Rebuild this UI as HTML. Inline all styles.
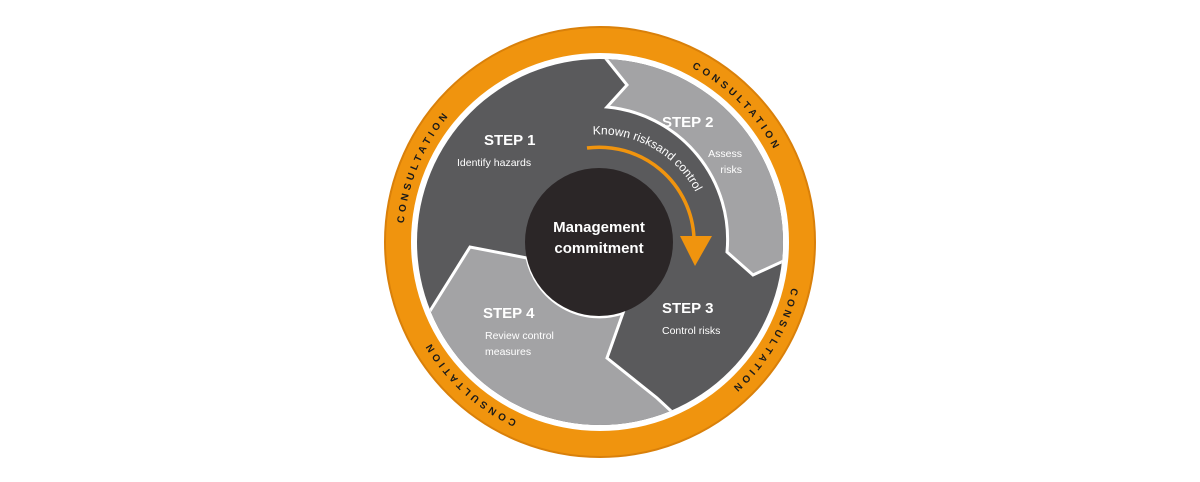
<!DOCTYPE html>
<html><head><meta charset="utf-8"><style>
html,body{margin:0;padding:0;background:#fff;}
svg{display:block;}
text{font-family:"Liberation Sans",sans-serif;}
</style></head><body>
<svg width="1200" height="482" viewBox="0 0 1200 482">
<defs>
<clipPath id="disk"><circle cx="600" cy="242" r="183"/></clipPath>
<path id="c1" d="M 600 242 m -197 0 a 197 197 0 1 1 394 0 a 197 197 0 1 1 -394 0"/>
<path id="ka" d="M 581 136 A 108 108 0 0 1 707.6 251.4"/>
</defs>
<circle cx="600" cy="242" r="215" fill="#f0940e"/>
<circle cx="600" cy="242" r="215" fill="none" stroke="#d9800a" stroke-width="2"/>
<circle cx="600" cy="242" r="189" fill="#fff"/>
<circle cx="600" cy="242" r="183" fill="#5a5a5c"/>
<g clip-path="url(#disk)" fill="#a3a3a5" stroke="#fff" stroke-width="3" stroke-linejoin="miter">
<path d="M603,55 L627,85 L607,107 A133,133 0 0 1 727,252 L753,275 L790,258 L790,40 Z"/>
<path d="M685,424 L657,398 L607,358 L623,313 A74,74 0 0 1 527,258 L470,247 L420,327 L380,345 L380,480 L700,480 Z"/>
</g>
<circle cx="599" cy="242" r="74" fill="#2b2627"/>
<path d="M 587 148 A 95 95 0 0 1 694 238" fill="none" stroke="#f0940e" stroke-width="3.5"/>
<polygon points="680,236 712,236 695,266" fill="#f0940e"/>
<text font-size="12" fill="#fff"><textPath href="#ka" startOffset="12">Known risksand control</textPath></text>
<g font-weight="bold" fill="#fff">
<text x="484" y="145" font-size="15">STEP 1</text>
<text x="662" y="127" font-size="15">STEP 2</text>
<text x="662" y="313" font-size="15">STEP 3</text>
<text x="483" y="318" font-size="15">STEP 4</text>
<text x="599" y="232" font-size="15" text-anchor="middle">Management</text>
<text x="599" y="253" font-size="15" text-anchor="middle">commitment</text>
</g>
<g fill="#fff" font-size="10.5">
<text x="457" y="166">Identify hazards</text>
<text x="742" y="157" text-anchor="end">Assess</text>
<text x="742" y="173" text-anchor="end">risks</text>
<text x="662" y="334">Control risks</text>
<text x="485" y="339">Review control</text>
<text x="485" y="355">measures</text>
</g>
<g font-size="10" font-weight="bold" fill="#1a1a1a" letter-spacing="3.6">
<text><textPath href="#c1" startOffset="79" text-anchor="middle">CONSULTATION</textPath></text>
<text><textPath href="#c1" startOffset="465" text-anchor="middle">CONSULTATION</textPath></text>
<text><textPath href="#c1" startOffset="725" text-anchor="middle">CONSULTATION</textPath></text>
<text><textPath href="#c1" startOffset="1074" text-anchor="middle">CONSULTATION</textPath></text>
</g>
</svg>
</body></html>
